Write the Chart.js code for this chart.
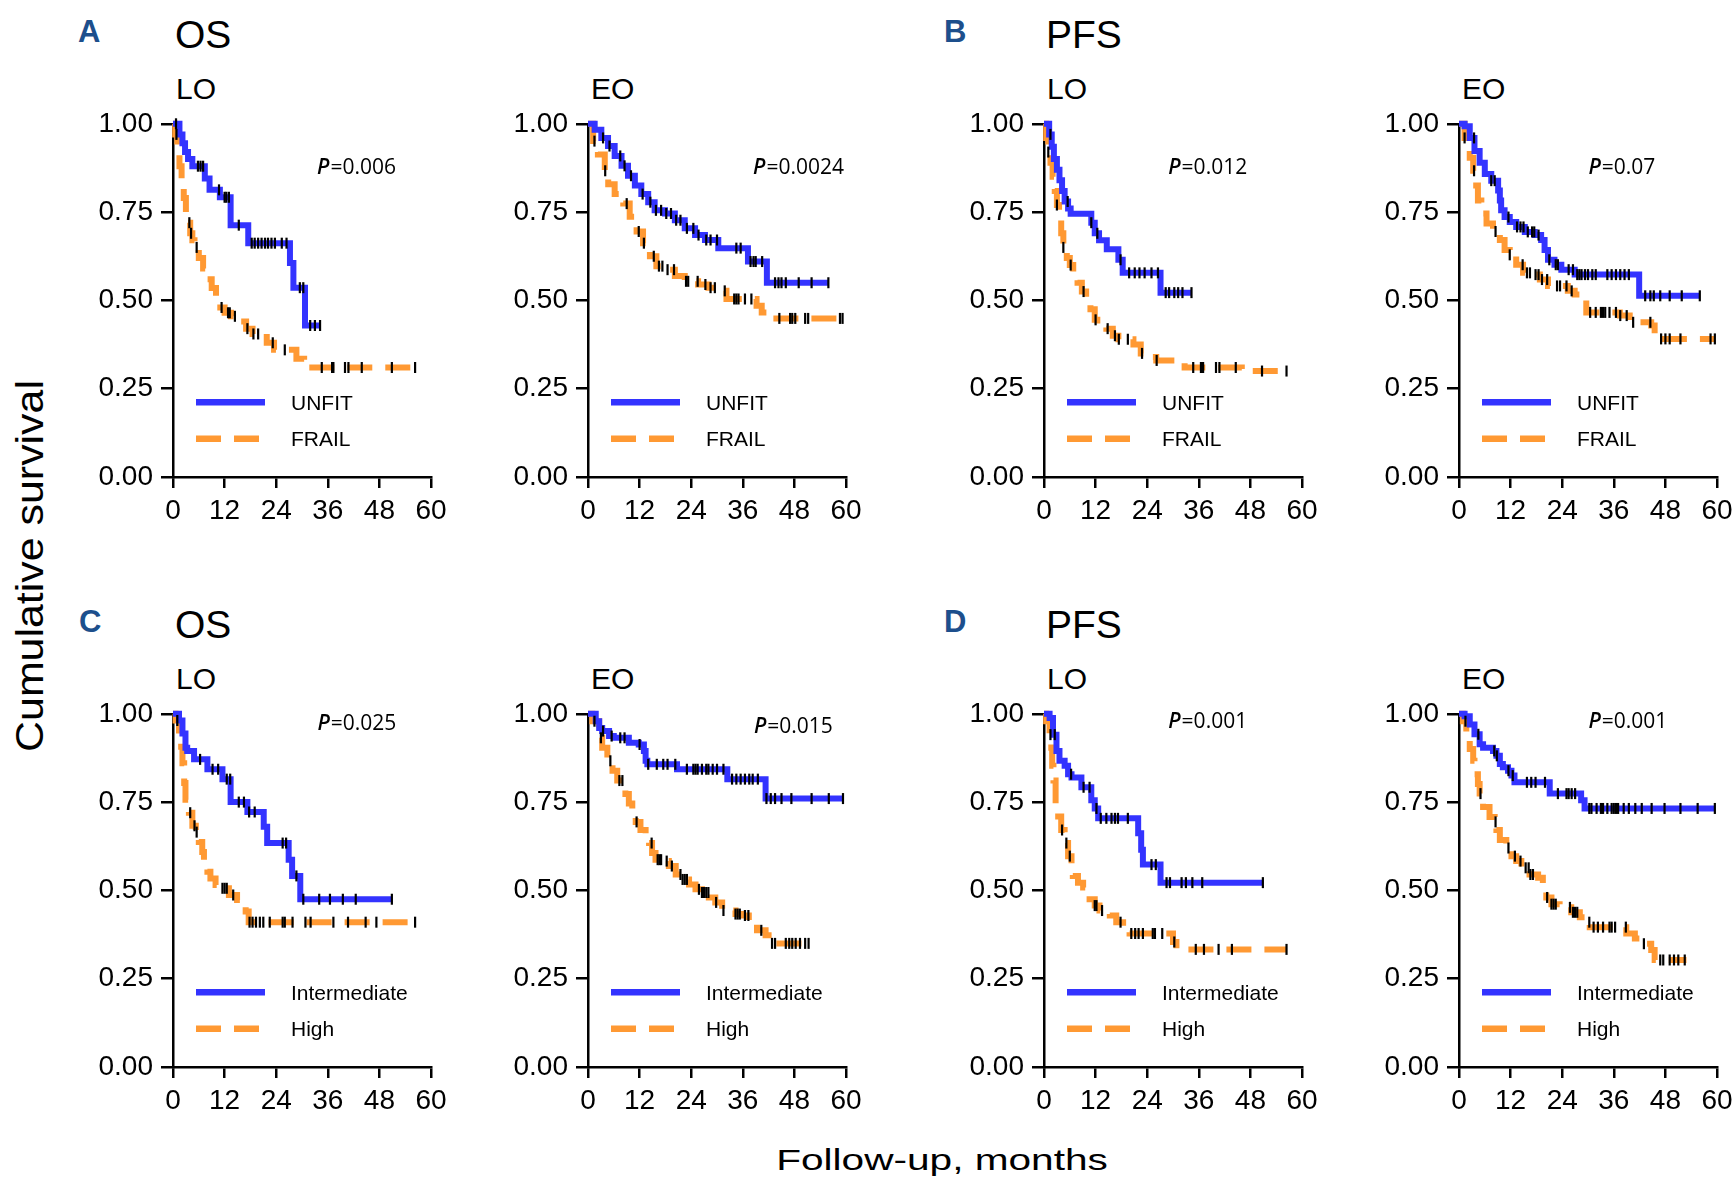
<!DOCTYPE html>
<html><head><meta charset="utf-8">
<script src="https://cdn.jsdelivr.net/npm/chart.js@4.4.1/dist/chart.umd.min.js"></script>
<style>
html,body{margin:0;padding:0;width:1735px;height:1181px;overflow:hidden;background:#fff;font-family:"Liberation Sans",Arial,sans-serif;}
.lbl{position:absolute;line-height:1;white-space:nowrap;color:#000;}
.let{position:absolute;line-height:1;font-weight:bold;font-size:31px;color:#1d4f8c;}
.big{font-size:39px;}
.sub{font-size:30px;}
canvas{position:absolute;}
</style></head><body>

<div class="let" style="left:78px;top:16px">A</div>
<div class="let" style="left:944px;top:16px">B</div>
<div class="let" style="left:79px;top:606px">C</div>
<div class="let" style="left:944px;top:606px">D</div>

<div class="lbl big" style="left:175px;top:15px">OS</div>
<div class="lbl big" style="left:1046px;top:15px">PFS</div>
<div class="lbl big" style="left:175px;top:605px">OS</div>
<div class="lbl big" style="left:1046px;top:605px">PFS</div>

<div class="lbl sub" style="left:176px;top:74px">LO</div>
<div class="lbl sub" style="left:591px;top:74px">EO</div>
<div class="lbl sub" style="left:1047px;top:74px">LO</div>
<div class="lbl sub" style="left:1462px;top:74px">EO</div>
<div class="lbl sub" style="left:176px;top:664px">LO</div>
<div class="lbl sub" style="left:591px;top:664px">EO</div>
<div class="lbl sub" style="left:1047px;top:664px">LO</div>
<div class="lbl sub" style="left:1462px;top:664px">EO</div>

<div class="lbl" style="left:29px;top:566px;font-size:39px;transform:translate(-50%,-50%) rotate(-90deg) scaleX(1.1);">Cumulative survival</div>
<div class="lbl" style="left:942px;top:1146px;font-size:29px;transform:translateX(-50%) scaleX(1.4);">Follow-up, months</div>

<script>
// ---------- DATA (time in months, cumulative survival) ----------
const xTicks = [0, 12, 24, 36, 48, 60];
const yTicks = [0, 0.25, 0.5, 0.75, 1.0];

// Panel A — OS, LO (UNFIT vs FRAIL)
const osLoUnfit = [[0,1],[1.5,0.97],[2.2,0.945],[2.8,0.92],[3.5,0.90],[4.5,0.88],[7.4,0.845],[8.5,0.813],[10.9,0.792],[13.4,0.713],[17.5,0.662],[27.2,0.606],[28.0,0.536],[30.7,0.429],[34.2,0.429]];
const osLoUnfitCens = [0.7,5.8,6.4,7.0,10.7,12.0,12.4,13.0,15.3,18.3,19.0,19.8,20.6,21.4,22.1,22.9,23.7,25.3,26.4,29.5,30.3,31.9,33.0,34.2];
const osLoFrail = [[0,1],[0.5,0.97],[1,0.93],[1.5,0.88],[2,0.84],[2.5,0.79],[3,0.75],[3.5,0.72],[4,0.69],[4.5,0.67],[5,0.65],[6,0.62],[7,0.59],[8,0.56],[9,0.535],[10,0.51],[11,0.48],[12,0.465],[13.5,0.455],[15.5,0.44],[17,0.42],[18.5,0.405],[21.8,0.38],[23.5,0.36],[28.7,0.335],[30.5,0.31],[56.3,0.31]];
const osLoFrailCens = [0.8,3.8,4.2,5.5,11.3,12.8,13.2,14.4,17.3,18.7,19.8,23.2,26.0,34.6,37.0,37.3,40.0,40.8,43.9,50.9,56.3];

// Panel A — OS, EO
const osEoUnfit = [[0,1],[1.55,0.983],[3.1,0.96],[4.66,0.937],[6.2,0.909],[7.8,0.881],[9.3,0.853],[10.9,0.825],[12.4,0.801],[14.0,0.778],[15.5,0.755],[17.9,0.746],[20.2,0.727],[22.5,0.704],[24.9,0.685],[27.2,0.671],[30.3,0.648],[37.2,0.61],[41.6,0.55],[55.9,0.55]];
const osEoUnfitCens = [3.5,5,7.5,8.5,10,12.7,14.5,15.8,17,18.2,19.3,20.5,21.5,23,24.5,25.7,27.5,28.5,30,34.5,35.5,37.8,38.5,39,40.5,43.5,44.3,45,46,49,52,55.9];
const osEoFrail = [[0,1],[1.2,0.951],[2.3,0.913],[3.9,0.867],[4.7,0.829],[6.2,0.801],[8.2,0.774],[9.7,0.737],[11.3,0.695],[12.8,0.662],[14.4,0.625],[15.9,0.597],[17.9,0.587],[20.2,0.569],[22.5,0.554],[25.6,0.545],[28.0,0.536],[30.3,0.527],[32.2,0.504],[39.2,0.485],[40.4,0.466],[41.6,0.449],[59.4,0.449]];
const osEoFrailCens = [1.5,4,9,11.8,13,15.3,16.5,17.3,18.5,20,22.8,23.3,25.5,27.3,28.5,29.5,31.8,34,34.5,35,36.5,38,44.5,47,47.5,48.2,50.5,51.2,58.6,59.2];

// Panel B — PFS, LO
const pfsLoUnfit = [[0,1],[1.2,0.97],[1.8,0.935],[2.3,0.90],[3,0.87],[3.6,0.84],[4.2,0.81],[4.8,0.78],[5.6,0.76],[6.2,0.745],[11.0,0.72],[11.8,0.69],[12.8,0.67],[14.6,0.645],[17.3,0.615],[18.3,0.578],[27.1,0.522],[34.3,0.522]];
const pfsLoUnfitCens = [1.5,5.5,11,12.4,17.8,19.8,21.1,22.2,23.4,25,26.5,28.3,29.1,30.3,31.2,32.2,34.3];
const pfsLoFrail = [[0,1],[0.5,0.96],[1,0.92],[1.5,0.89],[2,0.85],[2.5,0.81],[3,0.77],[3.5,0.73],[4,0.69],[4.5,0.65],[5.3,0.62],[6,0.60],[6.8,0.57],[7.8,0.55],[8.8,0.525],[9.8,0.50],[10.8,0.475],[11.8,0.445],[12.4,0.43],[14.5,0.42],[16,0.40],[17.3,0.39],[20.8,0.375],[22.5,0.35],[23.4,0.34],[26.1,0.33],[32.7,0.31],[46,0.30],[56.4,0.30]];
const pfsLoFrailCens = [1,3,4.5,6.2,9.2,12,14.8,16.5,17.4,19.5,22.8,26.2,34.7,36.5,37,40,40.8,44.6,50.7,56.4];

// Panel B — PFS, EO
const pfsEoUnfit = [[0,1],[1.3,0.993],[2.5,0.96],[3.6,0.923],[4.8,0.89],[6.0,0.858],[7.5,0.839],[9.1,0.811],[9.5,0.783],[9.8,0.755],[10.6,0.736],[11.8,0.722],[13.3,0.708],[15.3,0.694],[17.6,0.685],[19.1,0.671],[19.9,0.643],[20.7,0.615],[22.2,0.601],[23.8,0.587],[26.9,0.573],[41.9,0.513],[56.0,0.513]];
const pfsEoUnfitCens = [3.5,7.5,8.3,11.5,13.5,14.3,15,16,17,17.5,18.5,21,22.5,23,25.5,26.5,27.5,28,28.5,29.3,30,31,31.8,34.5,35.5,36.5,37.5,38.5,39.5,43.3,44.5,45.3,46.8,49,51.8,56];
const pfsEoFrail = [[0,1],[1.3,0.96],[2.5,0.904],[3.3,0.867],[4.0,0.825],[4.4,0.783],[5.2,0.746],[6.4,0.718],[7.9,0.695],[9.5,0.671],[10.6,0.643],[11.8,0.629],[13.3,0.601],[14.9,0.578],[16.8,0.573],[18.8,0.559],[20.7,0.541],[25.3,0.527],[26.9,0.517],[28.4,0.508],[29.6,0.466],[37.4,0.457],[39.7,0.438],[44.7,0.429],[45.5,0.401],[46.3,0.391],[59.5,0.391]];
const pfsEoFrailCens = [1.3,3.5,8.5,11.8,14.8,15.8,16.5,17.8,18.5,19.3,20.5,22.8,23.5,25,26.2,30.5,31.8,33,33.5,34,35,36.5,37.5,39,40.5,44.5,47,48,49,51.5,58.5,59.5];

// Panel C — OS, LO (Intermediate vs High)
const osLoInter = [[0,1],[1.4,0.981],[2.2,0.944],[2.9,0.904],[3.3,0.895],[4.9,0.871],[8.0,0.843],[11.5,0.815],[13.4,0.75],[17.3,0.722],[21.1,0.68],[21.9,0.634],[26.9,0.587],[27.7,0.541],[29.6,0.475],[50.9,0.475]];
const osLoInterCens = [6.3,9.2,10.5,12.5,13.3,15.3,16.5,17.7,19,25.5,26.3,28.7,30.3,34,36.5,39.5,42.5,50.9];
const osLoHigh = [[0,1],[0.6,0.981],[1.4,0.953],[1.9,0.907],[2.2,0.86],[2.6,0.804],[2.9,0.757],[3.7,0.72],[4.5,0.683],[5.3,0.665],[6.0,0.637],[6.8,0.609],[7.2,0.571],[8.0,0.553],[8.7,0.534],[9.9,0.515],[11.5,0.506],[13.0,0.487],[14.9,0.473],[16.9,0.44],[17.6,0.41],[56.3,0.41]];
const osLoHighCens = [1,4,5,5.5,11.5,12,12.5,14,17.8,18.5,19.3,20.2,21,22.5,25.5,26,27.8,30.8,32,37.3,40.7,44.8,47.3,56.3];

// Panel C — OS, EO
const osEoInter = [[0,1],[1.8,0.979],[2.6,0.96],[3.3,0.951],[4.9,0.937],[6.0,0.932],[9.5,0.918],[11.8,0.913],[13.0,0.895],[13.4,0.867],[13.8,0.857],[20.7,0.843],[32.4,0.815],[41.3,0.76],[59.4,0.76]];
const osEoInterCens = [3.5,5.5,7.5,8.5,12,14,16,17.5,18.5,20.3,23,24.5,25,25.5,26.5,27.5,28,29,30,31.5,33.5,34.5,35.5,36.5,37.5,38.3,39.5,41.5,42.5,43.5,45,47.3,52,56,59.3];
const osEoHigh = [[0,1],[1.0,0.979],[2.6,0.932],[3.3,0.904],[4.5,0.867],[5.7,0.839],[6.8,0.811],[8.7,0.773],[9.5,0.746],[10.3,0.722],[11.1,0.694],[12.2,0.671],[13.4,0.662],[14.2,0.634],[14.9,0.606],[15.7,0.587],[17.3,0.583],[18.8,0.569],[20.4,0.545],[21.9,0.531],[23.5,0.517],[25.0,0.503],[26.5,0.494],[28.1,0.48],[29.6,0.466],[31.2,0.443],[34.3,0.433],[35.8,0.429],[37.4,0.406],[39.3,0.387],[41.3,0.373],[42.0,0.35],[51.3,0.35]];
const osEoHighCens = [1.5,3,5.2,7.3,8,11.3,14.8,16.2,16.6,17,18.3,19.5,21.5,22,22.5,23,25.8,26.5,27,27.5,28,29.8,31.5,34.3,34.8,35.3,36.5,37.3,40.3,42.8,43.5,46,46.8,47.5,48.3,49.3,50.5,51.3];

// Panel D — PFS, LO
const pfsLoInter = [[0,1],[1.3,0.988],[2.1,0.941],[2.9,0.895],[3.6,0.867],[4.8,0.853],[5.6,0.829],[6.4,0.82],[8.7,0.792],[11.0,0.755],[11.8,0.732],[12.6,0.704],[21.9,0.662],[22.6,0.615],[23.0,0.573],[27.1,0.522],[50.9,0.522]];
const pfsLoInterCens = [2.5,6.3,9.2,10.6,12.2,13.2,14.5,15.7,16.5,17.2,19.5,25,26,28.5,29.3,32,33,34.5,36.8,50.9];
const pfsLoHigh = [[0,1],[0.5,0.979],[1.3,0.941],[1.7,0.904],[1.9,0.853],[2.2,0.811],[2.7,0.746],[3.3,0.709],[4.0,0.671],[4.8,0.634],[5.6,0.597],[6.4,0.569],[6.7,0.541],[7.9,0.522],[9.1,0.508],[10.6,0.475],[11.8,0.457],[12.9,0.443],[15.3,0.429],[16.8,0.41],[18.4,0.392],[19.9,0.378],[30.0,0.354],[30.8,0.333],[56.4,0.333]];
const pfsLoHighCens = [1.5,4.2,5.2,6,11.8,12.2,13.5,17.8,20.3,21.2,22,23,25.3,25.8,27.5,30.3,35.3,37.2,40.6,43.7,56.4];

// Panel D — PFS, EO
const pfsEoInter = [[0,1],[1.3,0.993],[2.5,0.97],[3.6,0.942],[4.8,0.914],[5.6,0.904],[7.9,0.895],[8.7,0.881],[9.5,0.858],[10.2,0.849],[11.4,0.839],[12.2,0.825],[12.9,0.806],[21.1,0.774],[28.4,0.755],[29.2,0.732],[59.5,0.732]];
const pfsEoInterCens = [4.5,8.2,8.8,11.5,12.5,15.8,16.8,17.8,20,23,25,25.5,26.2,27,30.3,30.8,32,33,33.5,34.5,35.5,36,36.5,37,38.3,39.5,41,42.5,44.8,47.8,51.5,55.5,59.5];
const pfsEoHigh = [[0,1],[0.9,0.979],[1.7,0.923],[2.5,0.9],[3.3,0.867],[3.6,0.829],[4.4,0.801],[4.8,0.774],[5.6,0.736],[7.1,0.708],[8.3,0.694],[8.7,0.671],[9.5,0.643],[11.0,0.62],[12.2,0.597],[13.3,0.583],[14.5,0.564],[16.4,0.545],[18.4,0.536],[19.5,0.513],[20.3,0.48],[21.5,0.461],[23.4,0.452],[26.1,0.438],[28.1,0.424],[29.2,0.41],[30.4,0.396],[38.9,0.378],[40.9,0.364],[42.8,0.349],[44.7,0.331],[45.5,0.303],[52.9,0.303]];
const pfsEoHighCens = [1.5,5,8.5,11.5,13,14.3,15.5,16.2,16.6,17.2,20.5,21.5,22,22.5,25.8,26.5,27,27.5,30.3,31.3,32.3,33.5,35,35.5,36.3,38.8,43,46.8,47.5,49,50,51,52.5];

const pValues = ['0.006','0.0024','0.012','0.07','0.025','0.015','0.001','0.001'];
const labelsFit = ['UNFIT','FRAIL'];
const labelsRisk = ['Intermediate','High'];

// ---------- LAYOUT ----------
const BLUE = 'rgb(51,51,255)';
const ORANGE = 'rgb(255,153,51)';
const colX = [173, 588, 1044, 1459];
const rowY = [119, 709];

const panels = [
  {col:0,row:0,a:osLoUnfit,ac:osLoUnfitCens,b:osLoFrail,bc:osLoFrailCens,p:pValues[0],pPos:[33.5,0.857],labels:labelsFit},
  {col:1,row:0,a:osEoUnfit,ac:osEoUnfitCens,b:osEoFrail,bc:osEoFrailCens,p:pValues[1],pPos:[38.4,0.857],labels:labelsFit},
  {col:2,row:0,a:pfsLoUnfit,ac:pfsLoUnfitCens,b:pfsLoFrail,bc:pfsLoFrailCens,p:pValues[2],pPos:[28.9,0.857],labels:labelsFit},
  {col:3,row:0,a:pfsEoUnfit,ac:pfsEoUnfitCens,b:pfsEoFrail,bc:pfsEoFrailCens,p:pValues[3],pPos:[30.1,0.857],labels:labelsFit},
  {col:0,row:1,a:osLoInter,ac:osLoInterCens,b:osLoHigh,bc:osLoHighCens,p:pValues[4],pPos:[33.6,0.955],labels:labelsRisk},
  {col:1,row:1,a:osEoInter,ac:osEoInterCens,b:osEoHigh,bc:osEoHighCens,p:pValues[5],pPos:[38.6,0.946],labels:labelsRisk},
  {col:2,row:1,a:pfsLoInter,ac:pfsLoInterCens,b:pfsLoHigh,bc:pfsLoHighCens,p:pValues[6],pPos:[28.9,0.960],labels:labelsRisk},
  {col:3,row:1,a:pfsEoInter,ac:pfsEoInterCens,b:pfsEoHigh,bc:pfsEoHighCens,p:pValues[7],pPos:[30.1,0.960],labels:labelsRisk}
];

function stepValue(steps, t) {
  let v = steps[0][1];
  for (const [x, y] of steps) { if (x <= t) v = y; else break; }
  return v;
}
const toXY = steps => steps.map(([x, y]) => ({x, y}));
const censPts = (steps, times) => times.map(t => ({x: t, y: stepValue(steps, t)}));

Chart.defaults.font.family = '"Liberation Sans", Arial, sans-serif';
Chart.defaults.color = '#000';

const decor = {
  id: 'decor',
  afterDraw(chart, args, opts) {
    const {ctx, chartArea: a, scales: {x, y}} = chart;
    ctx.save();
    const l1 = a.bottom - 74.8, l2 = a.bottom - 38.2;
    ctx.lineCap = 'butt';
    ctx.lineWidth = 6.5;
    ctx.strokeStyle = BLUE; ctx.setLineDash([]);
    ctx.beginPath(); ctx.moveTo(a.left + 23, l1); ctx.lineTo(a.left + 92, l1); ctx.stroke();
    ctx.strokeStyle = ORANGE; ctx.setLineDash([25, 13]);
    ctx.beginPath(); ctx.moveTo(a.left + 23, l2); ctx.lineTo(a.left + 92, l2); ctx.stroke();
    ctx.setLineDash([]);
    ctx.fillStyle = '#000';
    ctx.textBaseline = 'alphabetic';
    ctx.font = '21px "Liberation Sans", Arial, sans-serif';
    ctx.fillText(opts.labels[0], a.left + 118, l1 + 7.5);
    ctx.fillText(opts.labels[1], a.left + 118, l2 + 7.5);
    const px = x.getPixelForValue(opts.pPos[0]);
    const py = y.getPixelForValue(opts.pPos[1]);
    ctx.font = 'italic 600 21px "Open Sans", sans-serif';
    ctx.fillText('P', px, py);
    const w = ctx.measureText('P').width;
    ctx.font = '21px "Open Sans", sans-serif';
    ctx.fillText('=' + opts.p, px + w + 1, py);
    ctx.restore();
  }
};

const W = 390, H = 438;
panels.forEach(pn => {
  const c = document.createElement('canvas');
  c.width = W; c.height = H;
  c.style.left = (colX[pn.col] - 100) + 'px';
  c.style.top = (rowY[pn.row] - 20) + 'px';
  document.body.appendChild(c);
  const censorStyle = {showLine: false, pointStyle: 'line', rotation: 90, pointRadius: 5.5,
    pointBorderWidth: 2.2, pointBorderColor: '#000', borderColor: '#000', pointBackgroundColor: '#000', order: 0, clip: false};
  new Chart(c, {
    type: 'line',
    data: {
      datasets: [
        Object.assign({data: censPts(pn.a, pn.ac)}, censorStyle),
        Object.assign({data: censPts(pn.b, pn.bc)}, censorStyle),
        {data: toXY(pn.a), stepped: 'before', borderColor: BLUE, borderWidth: 6, pointRadius: 0, fill: false, order: 1, borderCapStyle: 'butt', clip: 4},
        {data: toXY(pn.b), stepped: 'before', borderColor: ORANGE, borderWidth: 6, borderDash: [25, 13], pointRadius: 0, fill: false, order: 2, borderCapStyle: 'butt', clip: 4}
      ]
    },
    options: {
      responsive: false, animation: false, devicePixelRatio: 1,
      layout: {padding: {left: 0, top: 20, right: 32, bottom: 0}},
      plugins: {legend: {display: false}, tooltip: {enabled: false},
                decor: {p: pn.p, pPos: pn.pPos, labels: pn.labels}},
      events: [],
      scales: {
        x: {type: 'linear', min: 0, max: 60,
            afterBuildTicks: s => { s.ticks = xTicks.map(v => ({value: v})); },
            ticks: {font: {size: 28}, color: '#000', padding: 6, maxRotation: 0, autoSkip: false},
            grid: {drawOnChartArea: false, drawTicks: true, tickLength: 11, tickWidth: 2.5, tickColor: '#000', color: '#000', lineWidth: 2.5},
            border: {display: true, color: '#000', width: 2.5},
            afterFit: s => { s.height = 60; }},
        y: {type: 'linear', min: 0, max: 1,
            afterBuildTicks: s => { s.ticks = yTicks.map(v => ({value: v})); },
            ticks: {font: {size: 28}, color: '#000', padding: 8, callback: v => Number(v).toFixed(2)},
            grid: {drawOnChartArea: false, drawTicks: true, tickLength: 12, tickWidth: 2.5, tickColor: '#000', color: '#000', lineWidth: 2.5},
            border: {display: true, color: '#000', width: 2.5},
            afterFit: s => { s.width = 100; }}
      }
    },
    plugins: [decor]
  });
});
</script>
</body></html>
